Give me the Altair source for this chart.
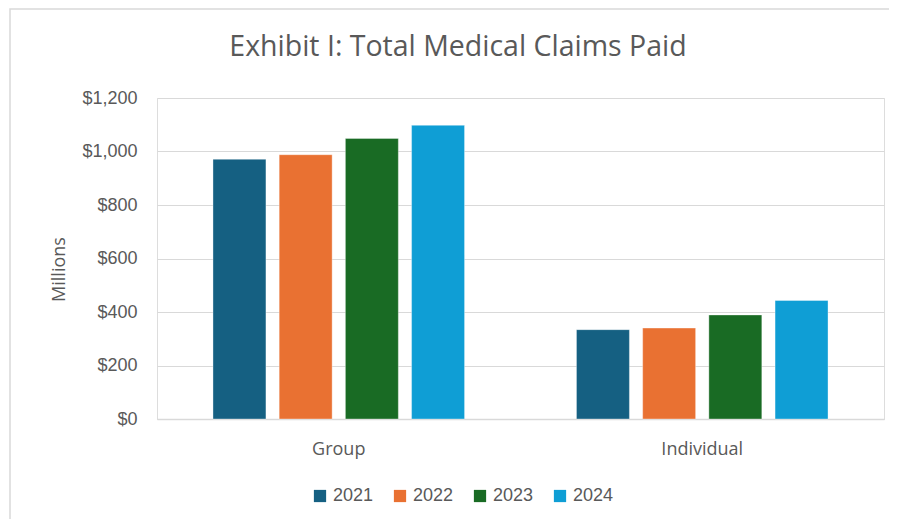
import altair as alt
import pandas as pd

categories = ["Group", "Individual"]
years = ["2021", "2022", "2023", "2024"]
group_vals = [971, 988, 1049, 1098]
indiv_vals = [334, 340, 389, 443]
colors = ["#156082", "#E97132", "#196B24", "#0F9ED5"]
y_ticks = [0, 200, 400, 600, 800, 1000, 1200]
title_text = "Exhibit I: Total Medical Claims Paid"

rows = []
for y, v in zip(years, group_vals):
    rows.append({"Category": "Group", "Year": y, "Value": v})
for y, v in zip(years, indiv_vals):
    rows.append({"Category": "Individual", "Year": y, "Value": v})
df = pd.DataFrame(rows)

TXT = "#595959"
GRID = "#d9d9d9"
SANS = "Open Sans"
ARIAL = "Liberation Sans"

bars = alt.Chart(df).mark_bar(stroke="white", strokeWidth=0.6, strokeOpacity=0.6).encode(
    x=alt.X("Category:N", sort=categories,
            scale=alt.Scale(paddingInner=0.2715, paddingOuter=0.1358),
            axis=alt.Axis(title=None, labelAngle=0, labelFont=SANS, labelFontSize=18,
                          labelColor=TXT, labelPadding=21, ticks=False,
                          domain=True, domainColor=GRID, domainWidth=1.5)),
    xOffset=alt.XOffset("Year:N", sort=years,
                        scale=alt.Scale(paddingInner=0.2, paddingOuter=0.1)),
    y=alt.Y("Value:Q", scale=alt.Scale(domain=[0, 1200], nice=False),
            axis=alt.Axis(values=y_ticks, format="$,d", title="Millions",
                          titleFont=SANS, titleFontSize=18, titleFontWeight="normal",
                          titleColor=TXT, titleX=-89, titleY=171, titleAngle=-90,
                          labelFont=ARIAL, labelFontSize=18, labelColor=TXT,
                          labelPadding=20, ticks=False, domain=False,
                          gridColor=GRID, gridWidth=1.2)),
    color=alt.Color("Year:N", sort=years,
                    scale=alt.Scale(domain=years, range=colors),
                    legend=alt.Legend(title=None, orient="none", direction="horizontal",
                                      legendX=154, legendY=389,
                                      symbolType="square", symbolSize=150,
                                      symbolStrokeWidth=0, symbolOpacity=1,
                                      labelFont=ARIAL, labelFontSize=18, labelColor=TXT,
                                      labelOffset=4, columnPadding=17)),
)

border = alt.Chart(alt.Data(values=[{}])).mark_rect(
    fill=None, stroke=GRID, strokeWidth=1.5
).encode(
    x=alt.value(-147), x2=alt.value(760), y=alt.value(-89), y2=alt.value(520)
)

title = alt.Chart(alt.Data(values=[{"t": title_text}])).mark_text(
    font=SANS, fontSize=28.5, color=TXT, align="center", baseline="middle"
).encode(
    text="t:N", x=alt.value(301), y=alt.value(-51)
)

chart = alt.layer(border, title, bars).properties(
    width=727,
    height=321,
    autosize=alt.AutoSizeParams(type="none"),
    padding={"left": 149, "top": 90, "right": 5, "bottom": 100},
).configure_view(stroke=None).configure(background="white")

chart.save("out.html", embed_options={"renderer": "svg", "actions": False})
